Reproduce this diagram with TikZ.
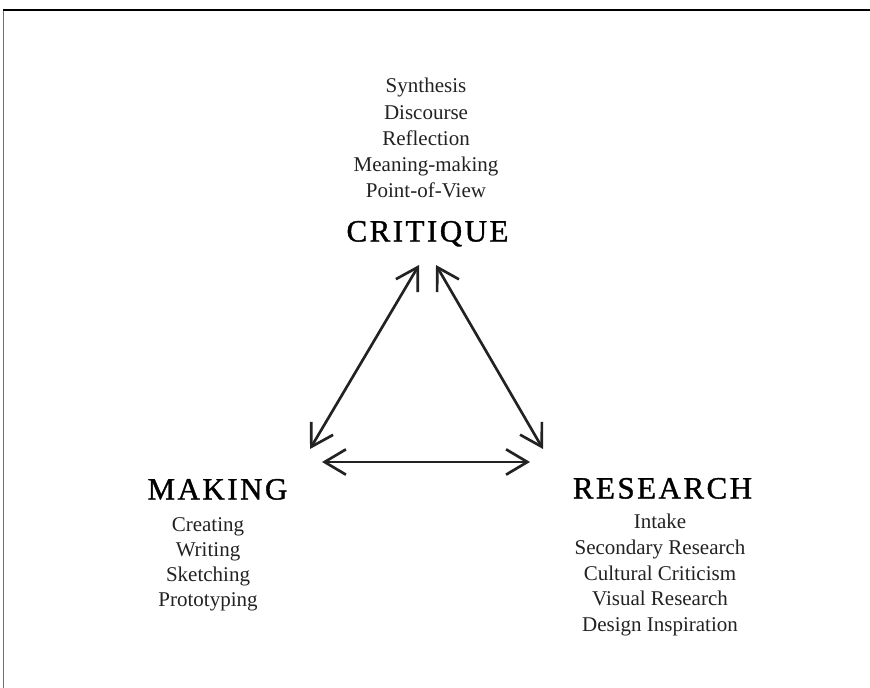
\documentclass[tikz,border=0pt]{standalone}
\usepackage{fontspec}
\setmainfont{Liberation Serif}
\usetikzlibrary{arrows.meta}
\definecolor{ink}{HTML}{222222}
\definecolor{framegray}{HTML}{707070}
\tikzset{
  x=0.75pt, y=-0.75pt,
  listline/.style={anchor=base, inner sep=0pt, text=ink, font=\fontsize{15.75pt}{19pt}\selectfont},
  heading/.style={anchor=base, inner sep=0pt, text=black, font=\fontsize{23.25pt}{28pt}\selectfont\addfontfeature{LetterSpace=8,FakeBold=1.2}},
  link/.style={draw=ink, line width=2pt, {Straight Barb[length=16pt, width=19pt, line width=2pt]}-{Straight Barb[length=16pt, width=19pt, line width=2pt]}}
}
\begin{document}
\begin{tikzpicture}
\useasboundingbox (0,0) rectangle (870,688);
% frame
\draw[framegray, line width=1pt] (3.5,688) -- (3.5,10);
\draw[black, line width=1pt] (3,10) -- (870,10);

% critique list
\foreach \t [count=\i from 0] in {Synthesis, Discourse, Reflection, Meaning-making, Point-of-View}
  \node[listline] (crit\i) at (426, 93+26.2*\i) {\t};
\node[heading] (critique) at (427.5, 241.5) {CRITIQUE};

% making
\node[heading] (making) at (217.5, 499.5) {MAKING};
\foreach \t [count=\i from 0] in {Creating, Writing, Sketching, Prototyping}
  \node[listline] (mak\i) at (208, 531.5+25*\i) {\t};

% research
\node[heading] (research) at (662.5, 498.5) {RESEARCH};
\foreach \t [count=\i from 0] in {Intake, Secondary Research, Cultural Criticism, Visual Research, Design Inspiration}
  \node[listline] (res\i) at (660, 528.5+25.8*\i) {\t};

% arrow endpoints
\coordinate (ctL) at (419,265);
\coordinate (ctR) at (436,265);
\coordinate (mkT) at (310,449);
\coordinate (rsT) at (543,449);
\coordinate (mkH) at (322,462);
\coordinate (rsH) at (530,462);

\draw[link] (mkT) -- (ctL);
\draw[link] (rsT) -- (ctR);
\draw[link] (mkH) -- (rsH);
\end{tikzpicture}
\end{document}
